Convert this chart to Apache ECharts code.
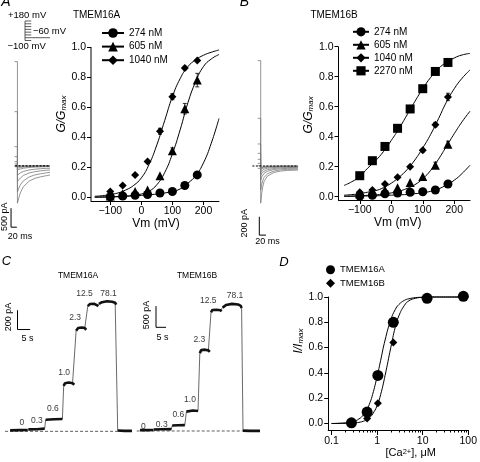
<!DOCTYPE html>
<html><head><meta charset="utf-8">
<script src="https://cdn.jsdelivr.net/npm/echarts@6/dist/echarts.min.js"></script>
<style>html,body{margin:0;padding:0;background:#fff}#c{width:480px;height:462px}</style>
</head><body><div id="c"></div>
<script>
// ---------- DATA ----------
// Panels A/B: G/Gmax vs Vm
const vm = [-100, -60, -20, 20, 60, 100, 140, 180];
const A274 = [0.005, 0.01, 0.015, 0.02, 0.03, 0.04, 0.08, 0.15];
const A605 = [0.01, 0.025, 0.04, 0.05, 0.145, 0.31, 0.59, 0.78];
const A1040 = [0.04, 0.08, 0.15, 0.24, 0.44, 0.67, 0.86, 0.91];
const errA605 = [0, 0, 0, 0, 0, 0.02, 0.035, 0.045];
const errA1040 = [0, 0, 0, 0, 0.02, 0.02, 0.012, 0];
const B274 = [0.005, 0.01, 0.02, 0.025, 0.03, 0.033, 0.045, 0.085];
const B605 = [0.02, 0.03, 0.045, 0.06, 0.095, 0.135, 0.21, 0.35];
const B1040 = [0.03, 0.045, 0.085, 0.13, 0.20, 0.31, 0.48, 0.665];
const B2270 = [0.14, 0.24, 0.335, 0.456, 0.585, 0.72, 0.835, 0.895];
const errB605 = [0, 0, 0, 0, 0, 0, 0.02, 0.02];
const errB1040 = [0, 0, 0, 0, 0, 0.012, 0.015, 0.025];
const errB2270 = [0, 0, 0, 0.02, 0, 0, 0, 0];
// fitted curves
const vFit = [-150, -125, -100, -75, -50, -25, 0, 25, 50, 75, 100, 125, 150, 175, 200, 225, 250];
const fitA274 = [0.003, 0.004, 0.005, 0.007, 0.009, 0.011, 0.014, 0.018, 0.023, 0.03, 0.04, 0.057, 0.095, 0.145, 0.23, 0.36, 0.525];
const fitA605 = [0.001, 0.002, 0.003, 0.005, 0.008, 0.014, 0.023, 0.042, 0.085, 0.165, 0.29, 0.45, 0.63, 0.77, 0.87, 0.92, 0.95];
const fitA1040 = [0.008, 0.012, 0.02, 0.03, 0.05, 0.08, 0.13, 0.22, 0.35, 0.51, 0.67, 0.79, 0.87, 0.915, 0.945, 0.965, 0.98];
const fitB274 = [0.002, 0.003, 0.004, 0.005, 0.006, 0.008, 0.01, 0.012, 0.015, 0.02, 0.026, 0.036, 0.052, 0.078, 0.11, 0.155, 0.21];
const fitB605 = [0.003, 0.004, 0.006, 0.009, 0.012, 0.018, 0.025, 0.037, 0.055, 0.08, 0.12, 0.175, 0.25, 0.335, 0.42, 0.5, 0.57];
const fitB1040 = [0.01, 0.014, 0.02, 0.03, 0.04, 0.06, 0.09, 0.13, 0.18, 0.245, 0.325, 0.415, 0.52, 0.63, 0.72, 0.79, 0.845];
const fitB2270 = [0.075, 0.1, 0.135, 0.19, 0.24, 0.30, 0.375, 0.455, 0.545, 0.635, 0.72, 0.795, 0.855, 0.895, 0.925, 0.945, 0.955];
const vTicks = [-100, 0, 100, 200];
const gTicks = [0, 0.2, 0.4, 0.6, 0.8, 1.0];

// Panel D: I/Imax vs [Ca2+]
const caD = [0.274, 0.605, 1.04, 2.27, 12.5, 78.1];
const dA = [0.005, 0.09, 0.38, 0.80, 0.99, 1.005];
const dB = [0.0, 0.04, 0.16, 0.64, 0.99, 1.0];
const caFit = [0.1, 0.2, 0.3, 0.4, 0.5, 0.6, 0.7, 0.8, 1.0, 1.2, 1.5, 2, 2.5, 3, 4, 5, 7, 10, 20, 50, 100];
const fitDA = [0.0, 0.005, 0.015, 0.036, 0.067, 0.11, 0.166, 0.23, 0.37, 0.5, 0.66, 0.82, 0.9, 0.94, 0.974, 0.986, 0.995, 0.998, 1.0, 1.0, 1.0];
const fitDB = [0.0, 0.001, 0.004, 0.009, 0.018, 0.03, 0.05, 0.075, 0.14, 0.23, 0.38, 0.6, 0.76, 0.85, 0.935, 0.97, 0.99, 0.997, 1.0, 1.0, 1.0];
const majorD = [0.1, 1, 10, 100];
const minorD = [0.2,0.3,0.4,0.5,0.6,0.7,0.8,0.9,2,3,4,5,6,7,8,9,20,30,40,50,60,70,80,90];

// Panel A/B left: current traces (ms, pA)
const stepsMV = [180, 140, 100, 60, 20, -20, -60, -100];
const tailMV = -60;
const tailT_A = [0, 5, 10, 20, 40, 60, 80, 100, 112];
const stepEndA = [2743, 1428, 507, 245, 113, 53, 8, -18];
const tailsA = [
  [-980, -830, -710, -550, -400, -325, -285, -255, -237],
  [-680, -580, -500, -395, -290, -235, -205, -180, -166],
  [-410, -355, -310, -250, -185, -150, -128, -112, -105],
  [-240, -205, -180, -145, -105, -85, -72, -64, -60],
  [-105, -90, -78, -60, -40, -30, -24, -20, -18],
  [-60, -50, -40, -28, -15, -8, -4, -2, 0],
  [-18, -14, -10, -6, -3, -1, 0, 0, 0],
  [0, 0, 0, 0, 0, 0, 0, 0, 0]
];
const tailT_B = [0, 3, 6, 10, 20, 40, 60, 80, 112];
const stepEndB = [1148, 520, 240, 138, 73, 29, 3, -25];
const tailsB = [
  [-405, -300, -230, -170, -110, -70, -55, -48, -44],
  [-262, -200, -160, -125, -85, -55, -42, -37, -34],
  [-153, -120, -100, -80, -58, -38, -30, -26, -24],
  [-98, -80, -66, -55, -40, -27, -20, -17, -15],
  [-62, -50, -42, -35, -25, -16, -12, -10, -9],
  [-36, -29, -24, -20, -14, -9, -6, -5, -4],
  [-19, -15, -12, -10, -7, -4, -3, -2, -2],
  [-7, -5, -4, -3, -2, -1, 0, 0, 0]
];

// Panel C: Ca2+ steps (s, pA), one array per plateau
const concC = ['0', '0.3', '0.6', '1.0', '2.3', '12.5', '78.1'];
const segCA = [
  [[0,10],[3.5,12],[6.9,14]],
  [[7.2,20],[10.5,22],[13.6,28]],
  [[14.0,120],[17.3,125],[20.6,128]],
  [[21.1,470],[21.6,498],[23.2,505],[24.6,498],[25.3,482]],
  [[26.0,1040],[26.8,1068],[28.2,1075],[29.4,1068],[30.0,1050]],
  [[30.6,1295],[31.5,1318],[33.0,1320],[34.2,1305],[34.7,1292]],
  [[35.0,1318],[36.2,1336],[38.2,1345],[40.2,1340],[41.4,1330],[41.8,1310]],
  [[42.4,8],[45,5],[48,5]]
];
const segCB = [
  [[0,20],[3.3,21],[6.5,23]],
  [[6.8,36],[11,40],[15.7,43]],
  [[16.1,128],[19,134],[22.4,137]],
  [[23.2,455],[24,475],[26.5,480],[29.0,470]],
  [[29.9,1830],[30.6,1900],[32.5,1912],[34.2,1895],[34.9,1860]],
  [[35.5,2790],[36.2,2845],[38.3,2850],[40.2,2840],[40.8,2810]],
  [[41.3,2900],[43,2962],[46,2988],[49,2975],[50.4,2940],[50.8,2890]],
  [[51.5,8],[55,2],[60,2]]
];
// scale bars: [x0, y0, xLen, yLen]
const barTA = [-22, -1610, 20, 500];
const barTB = [-4.2, -753, 20, 200];
const barCA = [2.9, 1053, 5, 200];
const barCB = [8, 2437, 5, 500];

// ---------- STYLE / HELPERS ----------
const FF = '"Liberation Sans", Arial, Helvetica, sans-serif';
const K = '#000';
const pairs = (xs, ys) => xs.map((x, i) => [x, ys[i]]);
const errData = (xs, ys, es) => xs.map((x, i) => [x, ys[i] - es[i], ys[i] + es[i]]).filter((d, i) => es[i] > 0);
const barData = b => [[b[0], b[1] + b[3]], [b[0], b[1]], [b[0] + b[2], b[1]]];
const minus = v => String(v).replace('-', '\u2212');

function errItem(params, api) {
  const x = api.value(0), lo = api.value(1), hi = api.value(2);
  const p1 = api.coord([x, lo]), p2 = api.coord([x, hi]);
  const w = 2, st = { stroke: K, lineWidth: 0.8 };
  return { type: 'group', children: [
    { type: 'line', shape: { x1: p1[0], y1: p1[1], x2: p2[0], y2: p2[1] }, style: st },
    { type: 'line', shape: { x1: p1[0] - w, y1: p1[1], x2: p1[0] + w, y2: p1[1] }, style: st },
    { type: 'line', shape: { x1: p2[0] - w, y1: p2[1], x2: p2[0] + w, y2: p2[1] }, style: st }
  ]};
}

const axLine = (show) => ({ show: show !== false, onZero: false, lineStyle: { color: K, width: 1 } });
const axTick = (vals, len) => ({ show: true, inside: false, length: len || 4, customValues: vals, lineStyle: { color: K, width: 1 } });
const axLab = (vals, fmt, margin) => ({ show: true, color: K, fontFamily: FF, fontSize: 10.5, margin: margin || 5, customValues: vals, formatter: fmt });

function gAxisX(grid, min, namePad) {
  return { type: 'value', gridIndex: grid, min: min, max: 250,
    axisLine: axLine(), axisTick: axTick(vTicks), axisLabel: axLab(vTicks, minus),
    splitLine: { show: false },
    name: 'Vm (mV)', nameLocation: 'middle', nameGap: 15,
    nameTextStyle: { color: K, fontFamily: FF, fontSize: 12, padding: namePad } };
}
const subRich = () => ({ i: { fontSize: 12, fontStyle: 'italic', fontFamily: FF, color: K, verticalAlign: 'bottom', lineHeight: 14 },
                  s: { fontSize: 8, fontStyle: 'italic', fontFamily: FF, color: K, verticalAlign: 'bottom', lineHeight: 6 } });
function gAxisY(grid, min, letter, gap, pad, showLine) {
  return { type: 'value', gridIndex: grid, min: min, max: 1,
    axisLine: axLine(showLine), axisTick: axTick(gTicks), axisLabel: axLab(gTicks, v => Number(v).toFixed(1)),
    splitLine: { show: false },
    name: '{i|' + letter + '/' + letter + '}{s|max}', nameLocation: 'middle', nameGap: gap, nameRotate: 90,
    nameTextStyle: { padding: pad, rich: subRich() } };
}
const hidden = (grid, min, max) => ({ type: 'value', gridIndex: grid, min, max, show: false,
  axisLine: { show: false, onZero: false }, splitLine: { show: false } });

// axis extents for panels A/B (used for the left axis line)
const xMinA = -162, yMinA = -0.0233, xMinB = -167.5, yMinB = -0.022;

// ---------- SERIES ----------
const series = [];
function fitSeries(name, xi, yi, xs, ys, sym) {
  series.push({ type: 'line', name, xAxisIndex: xi, yAxisIndex: yi, data: pairs(xs, ys), smooth: true,
    showSymbol: false, symbol: sym, lineStyle: { color: K, width: 1 }, itemStyle: { color: K, opacity: 1 }, clip: false, silent: true, z: 2 });
}
function ptSeries(name, xi, yi, xs, ys, sym, size) {
  series.push({ type: 'scatter', name, xAxisIndex: xi, yAxisIndex: yi, data: pairs(xs, ys), symbol: sym, symbolSize: size,
    itemStyle: { color: K, opacity: 1 }, clip: false, silent: true, z: 4 });
}
function errSeries(xi, yi, xs, ys, es) {
  series.push({ type: 'custom', xAxisIndex: xi, yAxisIndex: yi, data: errData(xs, ys, es), renderItem: errItem,
    encode: { x: 0, y: [1, 2] }, silent: true, z: 3, clip: false });
}
function lineS(xi, yi, data, color, width, type) {
  series.push({ type: 'line', xAxisIndex: xi, yAxisIndex: yi, data, showSymbol: false, silent: true, clip: false,
    lineStyle: { color, width, type: type || 'solid' } });
}
// Panel A
lineS(0, 0, [[xMinA, yMinA], [xMinA, 1]], K, 1);
fitSeries('A 274 nM', 0, 0, vFit, fitA274, 'circle');
fitSeries('A 605 nM', 0, 0, vFit, fitA605, 'triangle');
fitSeries('A 1040 nM', 0, 0, vFit, fitA1040, 'diamond');
errSeries(0, 0, vm, A605, errA605);
errSeries(0, 0, vm, A1040, errA1040);
ptSeries('pA274', 0, 0, vm, A274, 'circle', 9);
ptSeries('pA605', 0, 0, vm, A605, 'triangle', 9);
ptSeries('pA1040', 0, 0, vm, A1040, 'diamond', 8);
// Panel B
lineS(1, 1, [[xMinB, yMinB], [xMinB, 1]], K, 1);
fitSeries('B 274 nM', 1, 1, vFit, fitB274, 'circle');
fitSeries('B 605 nM', 1, 1, vFit, fitB605, 'triangle');
fitSeries('B 1040 nM', 1, 1, vFit, fitB1040, 'diamond');
fitSeries('B 2270 nM', 1, 1, vFit, fitB2270, 'rect');
errSeries(1, 1, vm, B605, errB605);
errSeries(1, 1, vm, B1040, errB1040);
errSeries(1, 1, vm, B2270, errB2270);
ptSeries('pB274', 1, 1, vm, B274, 'circle', 9);
ptSeries('pB605', 1, 1, vm, B605, 'triangle', 9);
ptSeries('pB1040', 1, 1, vm, B1040, 'diamond', 8);
ptSeries('pB2270', 1, 1, vm, B2270, 'rect', 9);
// Panel D
series.push({ type: 'line', xAxisIndex: 2, yAxisIndex: 2, data: pairs(caFit, fitDA), smooth: true, showSymbol: false,
  lineStyle: { color: K, width: 1 }, silent: true, clip: false });
series.push({ type: 'line', xAxisIndex: 2, yAxisIndex: 2, data: pairs(caFit, fitDB), smooth: true, showSymbol: false,
  lineStyle: { color: K, width: 1 }, silent: true, clip: false });
ptSeries('TMEM16B', 2, 2, caD, dB, 'diamond', 8);
ptSeries('TMEM16A', 2, 2, caD, dA, 'circle', 11);

// Trace panels (A, B left)
function traceSet(xi, yi, stepEnd, tailT, tails, stepLen) {
  stepEnd.forEach((s, i) => {
    series.push({ type: 'line', xAxisIndex: xi, yAxisIndex: yi, showSymbol: false, silent: true, clip: false,
      data: [[-stepLen, s], [0, s]].concat(pairs(tailT, tails[i])),
      lineStyle: { color: '#7a7a7a', width: 0.8 } });
  });
}
traceSet(4, 3, stepEndA, tailT_A, tailsA, 10);
traceSet(5, 4, stepEndB, tailT_B, tailsB, 9);
lineS(4, 3, [[-8, 0], [tailT_A[tailT_A.length - 1], 0]], K, 1.2, [2, 1.5]);
lineS(5, 4, [[-25, 0], [tailT_B[tailT_B.length - 1], 0]], K, 1.2, [2, 1.5]);
lineS(4, 3, barData(barTA), K, 1);
lineS(5, 4, barData(barTB), K, 1);
// voltage protocol icon
const rungs = [];
stepsMV.forEach(v => { rungs.push([0, v], [1, v], null); });
lineS(8, 7, rungs, '#333', 0.8);
lineS(8, 7, [[0, stepsMV[0]], [0, stepsMV[stepsMV.length - 1]]], '#333', 0.8);
lineS(8, 7, [[1, tailMV], [4, tailMV]], '#333', 0.8);

// Panel C traces
function cTrace(xi, yi, segs, offs, x0, x1) {
  lineS(xi, yi, [[x0, 0], [x1, 0]], '#333', 0.8, [3, 2]);
  lineS(xi, yi, [].concat(...segs), '#444', 0.8);
  const thick = [];
  segs.forEach(s => { thick.push(...s, null); });
  lineS(xi, yi, thick, '#111', 2.6);
  series.push({ type: 'scatter', xAxisIndex: xi, yAxisIndex: yi, symbolSize: 0, silent: true, clip: false,
    data: concC.map((c, i) => ({ value: segs[i][0], name: c,
      label: { show: true, position: 'inside', formatter: c, offset: offs[i], color: K, fontFamily: FF, fontSize: 8.5 } })) });
}
cTrace(6, 5, segCA, [[11.7,-7.6],[8.4,-8.4],[7.2,-11.4],[0.5,-13.5],[-1,-13],[-3.3,-12.7],[9.5,-10.5]], -2, 48);
cTrace(7, 6, segCB, [[3.3,-3.4],[8.1,-5.2],[6.1,-10.6],[3.6,-11.6],[-0.5,-13.8],[-2.7,-11.3],[12.4,-11.6]], -1.65, 60);
lineS(6, 5, barData(barCA), K, 1);
lineS(7, 6, barData(barCB), K, 1);

// ---------- GRAPHIC TEXT ----------
function T(x, y, text, size, opts) {
  opts = opts || {};
  return { type: 'text', x, y, rotation: opts.rot ? Math.PI / 2 : 0, silent: true,
    style: { text, fill: K, font: (opts.italic ? 'italic ' : '') + size + 'px ' + FF,
      align: opts.align || 'center', verticalAlign: 'middle' } };
}
const graphic = [
  T(6, 2, 'A', 14, { italic: true }), T(244.5, 2.5, 'B', 14, { italic: true }),
  T(6.5, 261, 'C', 13, { italic: true }), T(284, 262, 'D', 13, { italic: true }),
  T(96.5, 15, 'TMEM16A', 10), T(334, 15, 'TMEM16B', 10),
  T(8, 15, '+180 mV', 9.5, { align: 'left' }), T(33, 31.5, '\u221260 mV', 9.5, { align: 'left' }),
  T(7.5, 46.7, '\u2212100 mV', 9.5, { align: 'left' }),
  T(5, 216.7, '500 pA', 9, { rot: true }), T(20, 236.7, '20 ms', 9),
  T(245, 223.3, '200 pA', 9, { rot: true }), T(267.5, 241.7, '20 ms', 9),
  T(78, 276, 'TMEM16A', 8.5), T(197, 276, 'TMEM16B', 8.5),
  T(9, 317, '200 pA', 9, { rot: true }), T(27.5, 338.3, '5 s', 9),
  T(146.7, 315, '500 pA', 9, { rot: true }), T(162.5, 337.3, '5 s', 9)
];

// ---------- OPTION ----------
const legendText = { color: K, fontFamily: FF, fontSize: 10 };
const option = {
  animation: false,
  backgroundColor: '#fff',
  grid: [
    { left: 91, top: 47, width: 128, height: 154 },
    { left: 338.5, top: 46.7, width: 131.5, height: 153.3 },
    { left: 328.2, top: 297, width: 148.5, height: 133 },
    { left: 0, top: 51.9, width: 61, height: 186.3 },
    { left: 240.7, top: 46.7, width: 70, height: 201.9 },
    { left: 0, top: 296, width: 137, height: 145 },
    { left: 136, top: 290.6, width: 128, height: 148.9 },
    { left: 25, top: 21, width: 25, height: 19.5 }
  ],
  xAxis: [
    gAxisX(0, xMinA, [0, 0, 0, 2]),
    gAxisX(1, xMinB, [0, 13, 0, 0]),
    { type: 'log', logBase: 10, gridIndex: 2, min: 0.0847, max: 100,
      axisLine: axLine(), axisTick: axTick(majorD, 5),
      axisLabel: axLab(majorD, v => (v < 1 ? Number(v).toFixed(1) : String(Math.round(v))), 6),
      splitLine: { show: false }, minorTick: { show: false },
      name: '{n|[Ca}{p|2+}{n|], \u03bcM}', nameLocation: 'middle', nameGap: 16,
      nameTextStyle: { padding: [0, 0, 0, 25], rich: {
        n: { fontSize: 11, fontFamily: FF, color: K, verticalAlign: 'top', lineHeight: 13 },
        p: { fontSize: 7.5, fontFamily: FF, color: K, verticalAlign: 'top', lineHeight: 6 } } } },
    { type: 'log', logBase: 10, gridIndex: 2, min: 0.0847, max: 100, position: 'bottom',
      axisLine: { show: false, onZero: false }, axisLabel: { show: false }, splitLine: { show: false },
      axisTick: axTick(minorD, 2.5) },
    hidden(3, -60, 150),
    hidden(4, -60, 150),
    hidden(5, -4, 50),
    hidden(6, -2, 62),
    hidden(7, 0, 4)
  ],
  yAxis: [
    gAxisY(0, yMinA, 'G', 20.7, [0, 0, 0, 20], false),
    gAxisY(1, yMinB, 'G', 20.8, [0, 0, 0, 17], false),
    gAxisY(2, -0.0514, 'I', 19.7, [0, 0, 0, 45], true),
    hidden(3, -1900, 3000),
    hidden(4, -900, 1300),
    hidden(5, -100, 1400),
    hidden(6, -200, 3300),
    hidden(7, -100, 180)
  ],
  legend: [
    { data: ['A 274 nM', 'A 605 nM', 'A 1040 nM'], orient: 'vertical', left: 101, top: 28, padding: 0,
      itemWidth: 22, itemHeight: 12, itemGap: 3.6, textStyle: legendText, selectedMode: false,
      formatter: n => n.slice(2) },
    { data: ['B 274 nM', 'B 605 nM', 'B 1040 nM', 'B 2270 nM'], orient: 'vertical', left: 352, top: 26.8, padding: 0,
      itemWidth: 16, itemHeight: 11.5, itemGap: 3, textStyle: legendText, selectedMode: false,
      formatter: n => n.slice(2) },
    { data: ['TMEM16A', 'TMEM16B'], orient: 'vertical', left: 326, top: 264.8, padding: 0,
      itemWidth: 9, itemHeight: 9, itemGap: 3.4, textStyle: { color: K, fontFamily: FF, fontSize: 9.5 }, selectedMode: false }
  ],
  graphic,
  series
};
const chart = echarts.init(document.getElementById('c'), null, { renderer: 'canvas' });
chart.setOption(option);
</script>
</body></html>
